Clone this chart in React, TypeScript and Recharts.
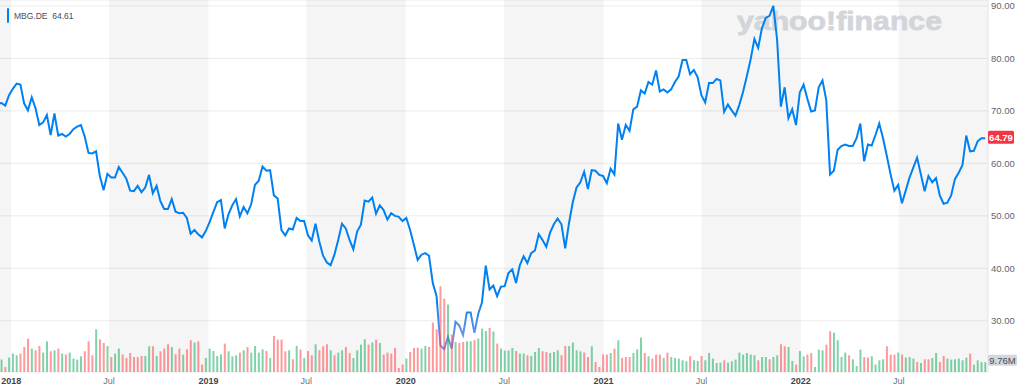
import React from 'react';
import {
  ComposedChart,
  Line,
  Bar,
  Cell,
  XAxis,
  YAxis,
  CartesianGrid,
  ReferenceArea,
  ReferenceLine,
} from 'recharts';

const FONT = "'Liberation Sans', Arial, Helvetica, sans-serif";
const WEEK = 7 * 24 * 3600 * 1000;

const symbol = 'MBG.DE';
const legendValue = '64.61';
const lastVolumeLabel = '9.76M';

// weekly closes, first week 2017-12-14
const firstWeek = Date.UTC(2017, 11, 14);
const leadInClose = 71.4;
const closes = [
  71.5, 71.0, 73.0, 74.2, 75.2, 75.0, 71.4, 70.1, 72.6, 70.5,
  67.3, 67.8, 69.2, 65.4, 69.5, 65.3, 65.6, 65.1, 65.6, 66.5,
  67.0, 67.3, 65.1, 62.0, 61.9, 62.3, 57.6, 54.9, 58.0, 57.3,
  57.3, 59.3, 58.2, 57.1, 54.8, 54.7, 55.7, 54.5, 55.4, 57.8,
  54.3, 55.7, 52.8, 51.3, 51.3, 53.2, 50.8, 50.5, 50.6, 49.6,
  46.6, 47.3, 46.5,
  45.9, 47.1, 48.8, 50.7, 52.6, 53.0, 47.6, 50.3, 52.0, 53.2,
  49.9, 51.7, 50.5, 52.2, 55.9, 56.7, 59.4, 58.6, 58.7, 53.9,
  53.3, 47.3, 46.3, 47.6, 47.4, 49.6, 49.0, 49.0, 46.3, 45.3,
  48.5, 45.1, 42.4, 41.1, 40.6, 42.6, 45.4, 48.5, 47.6, 45.4,
  43.6, 47.0, 48.3, 52.9, 52.7, 53.5, 50.4, 52.0, 51.1, 49.3,
  50.5, 50.0, 49.8, 49.0,
  49.6, 47.3, 44.5, 41.6, 42.6, 42.9, 42.4, 37.2, 34.7, 25.3,
  24.6, 26.9, 24.7, 29.8, 29.1, 27.3, 31.6, 31.6, 27.7, 31.3,
  33.5, 40.5, 36.0, 36.7, 34.7, 36.5, 36.6, 39.1, 39.8, 37.2,
  40.6, 42.3, 41.0, 42.9, 43.4, 46.5, 45.4, 44.1, 46.8, 48.4,
  49.5, 48.4, 43.8, 48.6, 52.6, 55.4, 56.4, 58.4, 55.1, 58.7,
  58.6, 57.8, 57.6,
  56.2, 59.0, 57.9, 67.6, 64.5, 67.3, 66.2, 70.3, 70.8, 73.9,
  73.3, 75.5, 75.0, 77.7, 73.7, 74.1, 73.5, 74.1, 75.5, 76.6,
  79.7, 79.7, 77.0, 77.8, 76.4, 73.0, 71.6, 75.3, 75.3, 76.1,
  75.8, 69.8, 71.2, 70.1, 69.1, 71.1, 73.6, 76.6, 79.8, 83.7,
  82.0, 85.8, 87.7, 88.1, 90.0, 83.6, 70.8, 74.5, 68.6, 70.3,
  67.3, 73.5,
  75.0, 72.3, 69.9, 70.1, 74.5, 75.8, 72.0, 57.9, 58.6, 62.6,
  63.3, 63.6, 63.3, 63.3, 64.8, 67.6, 60.4, 63.6, 63.4, 65.4,
  67.6, 64.8, 61.4, 57.9, 54.8, 55.9, 52.4, 54.8, 57.3, 59.2,
  61.1, 57.9, 54.7, 57.6, 56.4, 57.2, 53.9, 52.3, 52.5, 53.9,
  57.0, 58.2, 59.7, 65.3, 62.3, 62.4, 64.2, 64.8, 64.79,
];

// weekly volume, millions
const volumes = [
  12.4, 5.0, 14.4, 18.4, 16.7, 18.4, 25.0, 33.4, 23.4, 21.7,
  26.0, 19.4, 30.7, 20.7, 21.7, 23.4, 18.4, 17.4, 19.4, 13.4,
  12.4, 15.7, 20.7, 30.7, 16.7, 42.7, 32.7, 29.0, 26.0, 15.0,
  18.4, 23.4, 17.4, 14.0, 19.0, 15.0, 15.0, 16.0, 16.0, 25.7,
  25.7, 16.0, 20.7, 23.4, 27.7, 25.0, 17.7, 23.4, 17.4, 22.7,
  31.7, 29.4, 30.7, 7.4, 14.0, 23.4, 21.0, 16.0, 17.7, 28.4,
  20.7, 15.7, 16.7, 19.4, 21.7, 25.0, 19.4, 26.0, 19.4, 22.7,
  21.0, 14.0, 36.0, 32.4, 32.4, 20.7, 21.7, 12.7, 26.0, 22.4,
  14.0, 21.0, 16.7, 27.7, 21.7, 25.7, 27.7, 21.7, 16.7, 19.4,
  21.7, 25.0, 19.0, 14.0, 21.7, 27.4, 32.7, 27.4, 29.4, 32.4,
  29.0, 17.4, 19.4, 18.4, 24.0, 4.0, 7.4, 13.4, 20.0, 24.0,
  24.4, 23.4, 26.0, 25.0, 49.4, 42.7, 85.7, 73.4, 67.4,
  37.5, 30.0, 29.0, 30.0, 30.7, 30.7, 32.0, 33.4, 43.4, 41.0,
  44.0, 40.5, 28.4, 23.4, 21.5, 21.5,
  24.0, 21.0, 18.4, 18.4, 16.7, 16.0, 20.0, 24.0, 20.7, 20.0,
  19.0, 20.0, 21.7, 16.7, 26.0, 26.0, 29.4, 21.7, 20.7, 19.4,
  15.0, 25.7, 10.0, 5.0, 17.7, 17.4, 19.0, 23.4, 31.7, 14.0,
  15.0, 15.0, 19.0, 22.7, 34.4, 19.0, 15.7, 13.4, 17.4, 17.4,
  14.0, 19.4, 15.0, 14.0, 13.4, 11.7, 10.7, 15.7, 11.7, 11.0,
  16.0, 11.7, 19.0, 13.4, 9.0, 9.4, 11.7, 9.4, 10.7, 12.4,
  19.4, 17.4, 19.0, 17.4, 16.7, 11.7, 15.0, 15.0, 12.7, 15.0,
  16.7, 27.7, 25.7, 25.0, 11.0, 7.4, 21.0, 15.7, 17.4, 19.0,
  5.0, 22.4, 21.7, 27.4, 40.7, 39.4, 31.7, 15.0, 19.4, 16.7,
  12.7, 6.0, 22.4, 15.0, 14.4, 15.7, 7.4, 11.7, 12.7, 25.7,
  17.4, 17.4, 19.4, 17.4, 14.4, 15.0, 13.4, 10.0, 9.0, 12.7,
  12.7, 14.0, 19.0, 10.0, 16.0, 13.4, 12.4, 12.7, 13.4, 11.7,
  14.4, 18.4, 7.4, 11.7, 10.0, 9.76,
];

// g = up week, r = down week
const volumeSide = [
  'grgggrrrgr', 'rggrgrgrgg', 'ggrrrgrrgr', 'ggrrrrrrgg', 'rgrrrgrrgr',
  'rgrrgggggr', 'gggrgrgggg', 'rgrrrrgrgr', 'grrgrrrgrg', 'grrggggrgr',
  'grrrrrrgrr', 'rggrrrrrg',
  'rgrrggrgggrgrggg',
  'grggrgggrr', 'gggrrggggr', 'rgrrrrgrgr', 'rrgggrgrrr', 'grgggggrgg',
  'rgggggrggg', 'gggggrggrg', 'grrggrggrr', 'gggrrggggr', 'gggrrggggr',
  'rrgrgggrgr', 'rggrrggggg', 'grggg', 'g',
].join('').split('');

const xTickDates = [
  '2018-01-01', '2018-07-01', '2019-01-01', '2019-07-01', '2020-01-01',
  '2020-07-01', '2021-01-01', '2021-07-01', '2022-01-01', '2022-07-01',
];
const priceTicks = [30, 40, 50, 60, 70, 80, 90];

const xTicks = xTickDates.map((d) => Date.parse(d));
const xDomain = [Date.UTC(2017, 11, 11, 7), Date.UTC(2022, 11, 13, 5)];
const yDomain = [20.25, 91.125];
const volDomain = [0, 372];

const rows = closes.map((c, i) => ({
  t: firstWeek + i * WEEK,
  close: c,
  volume: volumes[i],
  side: volumeSide[i],
}));
const priceRows = [{ t: firstWeek - WEEK, close: leadInClose }, ...rows];
const lastClose = closes[closes.length - 1];
const lastVolume = volumes[volumes.length - 1];

// grey half-year bands (Jul -> Jan)
const bands = [
  [xDomain[0], xTicks[0]],
  [xTicks[1], xTicks[2]],
  [xTicks[3], xTicks[4]],
  [xTicks[5], xTicks[6]],
  [xTicks[7], xTicks[8]],
  [xTicks[9], xDomain[1]],
];

const XTick = (props: any) => {
  const { x, y, payload } = props;
  const d = new Date(payload.value);
  const isYear = d.getUTCMonth() === 0;
  return (
    <text
      x={x}
      y={y}
      dy="0.71em"
      textAnchor="middle"
      fontSize={9}
      fontFamily={FONT}
      fontWeight={isYear ? 700 : 400}
      fill={isYear ? '#3f454c' : '#6b737b'}
    >
      {isYear ? String(d.getUTCFullYear()) : 'Jul'}
    </text>
  );
};

const PriceTag = (props: any) => {
  const { viewBox } = props;
  const x = viewBox.x + viewBox.width;
  const y = viewBox.y - 1;
  return (
    <g>
      <rect x={x} y={y - 6.5} width={26} height={13} rx={1.5} fill="#f23645" />
      <text x={x + 13} y={y} dy="0.36em" textAnchor="middle" fontSize={9.5} fontFamily={FONT} fontWeight={700} fill="#ffffff">
        {lastClose.toFixed(2)}
      </text>
    </g>
  );
};

const VolumeTag = (props: any) => {
  const { viewBox } = props;
  const x = viewBox.x + viewBox.width;
  const y = viewBox.y - 2;
  return (
    <g>
      <rect x={x} y={y - 5.5} width={29} height={11} rx={1.5} fill="#d3d6db" />
      <text x={x + 14.5} y={y} dy="0.36em" textAnchor="middle" fontSize={9.5} fontFamily={FONT} fill="#464e56">
        {lastVolumeLabel}
      </text>
    </g>
  );
};

const layer: React.CSSProperties = { position: 'absolute', left: 0, top: 0 };
const hiddenMargin = { top: 0, right: 36, bottom: 18, left: 0 };

export default function App() {
  return (
    <div style={{ position: 'fixed', left: 0, top: 0, width: 1024, height: 390, background: '#fff', fontFamily: FONT }}>
      {/* bands, grid, axes */}
      <div style={layer}>
        <ComposedChart width={1024} height={390} data={priceRows} margin={{ top: 0, right: 0, bottom: 0, left: 0 }}>
          <XAxis
            dataKey="t"
            type="number"
            domain={xDomain}
            allowDataOverflow
            ticks={xTicks}
            interval={0}
            tick={<XTick />}
            axisLine={false}
            tickLine={false}
            tickSize={0}
            tickMargin={6}
            height={18}
          />
          <YAxis
            orientation="right"
            domain={yDomain}
            allowDataOverflow
            ticks={priceTicks}
            tickFormatter={(v: number) => v.toFixed(2)}
            width={36}
            axisLine={{ stroke: '#e2e4e7' }}
            tickLine={false}
            tickSize={0}
            tickMargin={3}
            tick={{ fill: '#5e6670', fontSize: 9.5, fontFamily: FONT }}
          />
          <CartesianGrid vertical={false} stroke="#ececec" />
          {bands.map(([a, b], i) => (
            <ReferenceArea key={i} x1={a} x2={b} fill="#000000" fillOpacity={0.04} stroke="none" ifOverflow="extendDomain" />
          ))}
          <Line dataKey="close" stroke="none" dot={false} isAnimationActive={false} />
        </ComposedChart>
      </div>

      {/* watermark */}
      <svg style={layer} width={1024} height={390}>
        <text
          x={737}
          y={30}
          fontSize={26}
          fontWeight={800}
          fontFamily={FONT}
          fill="#d2d6db"
          stroke="#d2d6db"
          strokeWidth={0.8}
          textLength={205}
          lengthAdjust="spacingAndGlyphs"
        >
          yahoo!finance
        </text>
      </svg>

      {/* price line */}
      <div style={layer}>
        <ComposedChart width={1024} height={390} data={priceRows} margin={hiddenMargin}>
          <defs>
            <linearGradient id="priceStroke" gradientUnits="userSpaceOnUse" x1="0" y1="300" x2="0" y2="340">
              <stop offset="0%" stopColor="#0081f2" />
              <stop offset="100%" stopColor="#7a95e4" />
            </linearGradient>
          </defs>
          <XAxis dataKey="t" type="number" domain={xDomain} allowDataOverflow hide />
          <YAxis domain={yDomain} allowDataOverflow hide />
          <Line
            type="linear"
            dataKey="close"
            stroke="url(#priceStroke)"
            strokeWidth={2}
            dot={false}
            isAnimationActive={false}
          />
          <ReferenceLine y={lastClose} stroke="none" label={PriceTag} />
        </ComposedChart>
      </div>

      {/* volume */}
      <div style={layer}>
        <ComposedChart width={1024} height={390} data={rows} margin={hiddenMargin}>
          <XAxis dataKey="t" type="number" domain={xDomain} allowDataOverflow hide />
          <YAxis domain={volDomain} allowDataOverflow hide />
          <Bar dataKey="volume" barSize={2} isAnimationActive={false}>
            {rows.map((r, i) => (
              <Cell key={i} fill={r.side === 'g' ? 'rgba(0,168,84,0.5)' : 'rgba(255,51,58,0.5)'} />
            ))}
          </Bar>
          <ReferenceLine y={lastVolume} stroke="none" label={VolumeTag} />
        </ComposedChart>
      </div>

      {/* legend */}
      <div style={{ position: 'absolute', left: 6.5, top: 8.3, width: 2.8, height: 15, borderRadius: 2, background: '#0081f2' }} />
      <div
        style={{
          position: 'absolute',
          left: 14,
          top: 10,
          fontSize: 8.5,
          lineHeight: '12px',
          color: '#464e56',
          whiteSpace: 'pre',
        }}
      >
        {symbol + '  ' + legendValue}
      </div>
    </div>
  );
}
